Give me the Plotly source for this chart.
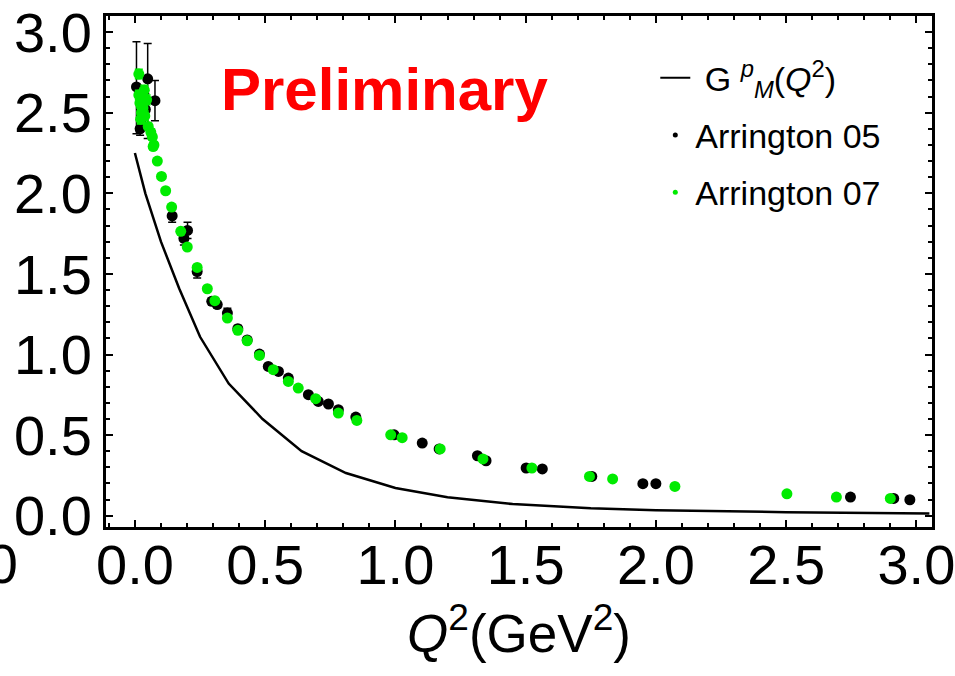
import plotly.graph_objects as go

# ---------------- data ----------------
# theory curve G_M^p(Q^2)
curve_q2 = [0.0, 0.04, 0.10, 0.17, 0.25, 0.36, 0.49, 0.64, 0.81, 1.00, 1.20, 1.45, 1.75, 2.00, 2.50, 3.00, 3.05]
curve_g = [2.25, 2.00, 1.70, 1.41, 1.11, 0.82, 0.60, 0.40, 0.265, 0.172, 0.115, 0.072, 0.046, 0.034, 0.022, 0.014, 0.013]

# Arrington 05 (black)
a05_q2 = [0.006, 0.049, 0.077, 0.020, 0.040, 0.143, 0.188, 0.202, 0.239, 0.295, 0.316, 0.355,
          0.395, 0.431, 0.478, 0.512, 0.551, 0.589, 0.666, 0.704, 0.743, 0.781, 0.848, 0.995, 1.103,
          1.168, 1.315, 1.348, 1.502, 1.564, 1.754, 1.950, 2.000, 2.747, 2.913, 2.975]
a05_g = [2.66, 2.71, 2.575, 2.40, 2.52, 1.86, 1.72, 1.77, 1.515, 1.33, 1.31, 1.257,
         1.16, 1.09, 1.003, 0.926, 0.895, 0.854, 0.751, 0.709, 0.693, 0.658, 0.612, 0.502, 0.451,
         0.414, 0.372, 0.341, 0.296, 0.290, 0.244, 0.199, 0.199, 0.116, 0.107, 0.099]
a05_err_plus = [0.28, 0.22, 0.125, 0.04, 0.10, 0.04, 0.04, 0.05, 0.04, 0.02, 0.02, 0.03,
                0.02, 0.02, 0.015, 0.015, 0.015, 0.015, 0.01, 0.01, 0.01, 0.01, 0.01, 0.01, 0.01,
                0.01, 0.01, 0.01, 0.005, 0.005, 0.005, 0.005, 0.005, 0.005, 0.005, 0.005]
a05_err_minus = [0.29, 0.37, 0.125, 0.04, 0.10, 0.04, 0.04, 0.05, 0.04, 0.02, 0.02, 0.03,
                 0.02, 0.02, 0.015, 0.015, 0.015, 0.015, 0.01, 0.01, 0.01, 0.01, 0.01, 0.01, 0.01,
                 0.01, 0.01, 0.01, 0.005, 0.005, 0.005, 0.005, 0.005, 0.005, 0.005, 0.005]

# Arrington 07 (green)
a07_q2 = [0.015, 0.015, 0.019, 0.025, 0.022, 0.031, 0.038, 0.045, 0.036, 0.051, 0.061, 0.067, 0.073,
          0.070, 0.086, 0.102, 0.118, 0.141, 0.176, 0.201, 0.239, 0.278, 0.307, 0.355, 0.395, 0.431,
          0.478, 0.531, 0.589, 0.627, 0.694, 0.781, 0.852, 0.982, 1.026, 1.172, 1.336, 1.524, 1.745,
          1.834, 2.073, 2.503, 2.693, 2.900]
a07_g = [2.74, 2.61, 2.56, 2.50, 2.46, 2.53, 2.48, 2.58, 2.64, 2.415, 2.38, 2.35, 2.30,
         2.29, 2.20, 2.105, 2.016, 1.915, 1.764, 1.667, 1.54, 1.408, 1.334, 1.226, 1.15, 1.085,
         0.994, 0.906, 0.833, 0.792, 0.726, 0.637, 0.591, 0.502, 0.484, 0.414, 0.352, 0.296, 0.244,
         0.228, 0.182, 0.136, 0.116, 0.107]
a07_err = [0.03, 0.03, 0.03, 0.03, 0.03, 0.03, 0.03, 0.03, 0.03, 0.02, 0.02, 0.02, 0.02,
           0.02, 0.015, 0.015, 0.01, 0.01, 0.01, 0.01, 0.01, 0.01, 0.01, 0.01, 0.01, 0.01,
           0.01, 0.01, 0.01, 0.01, 0.01, 0.01, 0.01, 0.005, 0.005, 0.005, 0.005, 0.005, 0.005,
           0.005, 0.005, 0.005, 0.005, 0.005]

x_tickvals = [0.0, 0.5, 1.0, 1.5, 2.0, 2.5, 3.0]
y_tickvals = [0.0, 0.5, 1.0, 1.5, 2.0, 2.5, 3.0]

GREEN = "rgb(0,235,0)"
FONT = "Liberation Sans, Arial, sans-serif"

fig = go.Figure()

fig.add_trace(go.Scatter(x=curve_q2, y=curve_g, mode="lines",
                         line=dict(color="black", width=2.5), showlegend=False))
fig.add_trace(go.Scatter(x=a05_q2, y=a05_g, mode="markers",
                         marker=dict(color="black", size=11),
                         error_y=dict(type="data", array=a05_err_plus, arrayminus=a05_err_minus,
                                      color="black", thickness=1.5, width=4),
                         showlegend=False))
fig.add_trace(go.Scatter(x=a07_q2, y=a07_g, mode="markers",
                         marker=dict(color=GREEN, size=11),
                         error_y=dict(type="data", array=a07_err,
                                      color=GREEN, thickness=1.5, width=4),
                         showlegend=False))

# legend entries
fig.add_trace(go.Scatter(x=[None], y=[None], mode="lines", line=dict(color="black", width=2),
                         name=" G <sup><i>p</i></sup><sub><i>M</i></sub>(<i>Q</i><sup>2</sup>)",
                         legendgroup="a"))
fig.add_trace(go.Scatter(x=[None], y=[None], mode="markers", marker=dict(color="black", size=5),
                         name="Arrington 05", legendgroup="b"))
fig.add_trace(go.Scatter(x=[None], y=[None], mode="markers", marker=dict(color=GREEN, size=5),
                         name="Arrington 07", legendgroup="c"))

axis_common = dict(
    showline=True, linecolor="black", linewidth=3, mirror="allticks",
    ticks="inside", ticklen=7, tickwidth=2, tickcolor="black",
    showgrid=False, zeroline=False, tickformat=".1f",
    tickfont=dict(family=FONT, size=56, color="black"),
    ticklabeloverflow="allow",
    minor=dict(ticks="inside", ticklen=4, tickwidth=1.5, tickcolor="black", dtick=0.1, showgrid=False),
    automargin=False,
)

fig.update_xaxes(range=[-0.111, 3.06], tickvals=x_tickvals, ticklabelstandoff=-13, **axis_common,
                 title=dict(text="<i>Q</i><sup>2</sup>(GeV<sup>2</sup>)",
                            font=dict(family=FONT, size=53, color="black"), standoff=8))
fig.update_yaxes(range=[-0.07, 3.10], tickvals=y_tickvals, **axis_common)

fig.add_annotation(xref="paper", yref="paper", x=0.337, y=0.857, xanchor="center", yanchor="middle",
                   text="<b>Preliminary</b>", showarrow=False,
                   font=dict(family=FONT, size=60, color="rgb(255,0,0)"))
# fragment of neighbouring panel's tick label at the left edge
fig.add_annotation(xref="paper", yref="paper", x=-0.104, y=-0.072, xanchor="right", yanchor="middle",
                   text="3.0", showarrow=False,
                   font=dict(family=FONT, size=56, color="black"))

fig.update_layout(
    width=955, height=676,
    margin=dict(l=106, r=23, t=16, b=149),
    paper_bgcolor="white", plot_bgcolor="white",
    legend=dict(x=0.665, y=0.935, xanchor="left", yanchor="top",
                font=dict(family=FONT, size=34, color="black"),
                bgcolor="rgba(0,0,0,0)", tracegroupgap=10, itemsizing="trace"),
)

fig.write_html("out.html")
